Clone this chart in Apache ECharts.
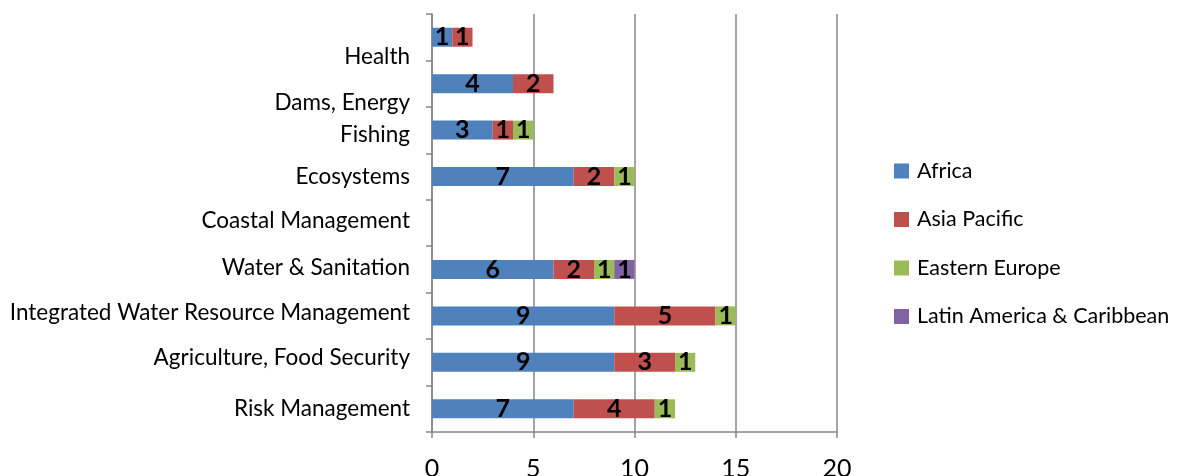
<!DOCTYPE html>
<html><head><meta charset="utf-8">
<script src="https://cdn.jsdelivr.net/npm/echarts@6/dist/echarts.min.js"></script>
<style>html,body{margin:0;padding:0;background:#fff}#c{width:1178px;height:476px}</style>
</head><body><div id="c"></div>
<script>
const categories = ["Health","Dams, Energy","Fishing","Ecosystems","Coastal Management","Water & Sanitation","Integrated Water Resource Management","Agriculture, Food Security","Risk Management"];
const africa = [1,4,3,7,null,6,9,9,7];
const asiaPacific = [1,2,1,2,null,2,5,3,4];
const easternEurope = [null,null,1,1,null,1,1,1,1];
const latinAmerica = [null,null,null,null,null,1,null,null,null];
const seriesNames = ["Africa","Asia Pacific","Eastern Europe","Latin America & Caribbean"];
const xTicks = [0,5,10,15,20];

// label vertical offsets (px) to mimic the original's label placement
const labelShift = [20,19,5,0,-2,-2,-3,-5,0];
const FONT = 'Lato';
const rich = {};
labelShift.forEach((s,i)=>{
  rich['o'+i] = {fontFamily:FONT,fontSize:22.5,color:'#000',
    padding: s>=0 ? [2*s,0,0,0] : [0,0,-2*s,0]};
});

const colors = ['#4F81BD','#C0504D','#9BBB59','#8064A2'];
function mk(name, data, i){
  return {name, type:'bar', stack:'t', data, barWidth:19,
    itemStyle:{color:colors[i]},
    label:{show:true, position:'inside', color:'#000', fontFamily:FONT, fontWeight:'bold', fontSize:25,
      formatter:p=>p.value==null?'':String(p.value)}};
}
const chart = echarts.init(document.getElementById('c'));
chart.setOption({
  animation:false,
  grid:{left:432, right:341, top:14, bottom:44, containLabel:false, outerBoundsMode:'none'},
  legend:{orient:'vertical', left:894, top:160, padding:0, itemWidth:15, itemHeight:15, itemGap:26.5,
    icon:'rect', textStyle:{fontFamily:FONT, fontSize:21.5, color:'#000', padding:[0,0,0,3]},
    data:seriesNames},
  xAxis:{type:'value', min:0, max:20, interval:5,
    axisLine:{show:true, lineStyle:{color:'#868686', width:1.5}},
    axisTick:{show:true, length:6, lineStyle:{color:'#868686', width:1.5}},
    splitLine:{show:true, lineStyle:{color:'#868686', width:1.5}},
    axisLabel:{fontFamily:FONT, fontSize:25, color:'#000', margin:24,
      formatter:v=>xTicks.includes(v)?String(v):''}},
  yAxis:{type:'category', inverse:true, data:categories,
    axisLine:{show:true, lineStyle:{color:'#868686', width:1.5}},
    axisTick:{show:true, length:6, alignWithLabel:false, lineStyle:{color:'#868686', width:1.5}},
    axisLabel:{margin:22, interval:0, formatter:(v,i)=>'{o'+i+'|'+v+'}', rich}},
  series:[mk(seriesNames[0],africa,0), mk(seriesNames[1],asiaPacific,1), mk(seriesNames[2],easternEurope,2), mk(seriesNames[3],latinAmerica,3)]
});
</script></body></html>
